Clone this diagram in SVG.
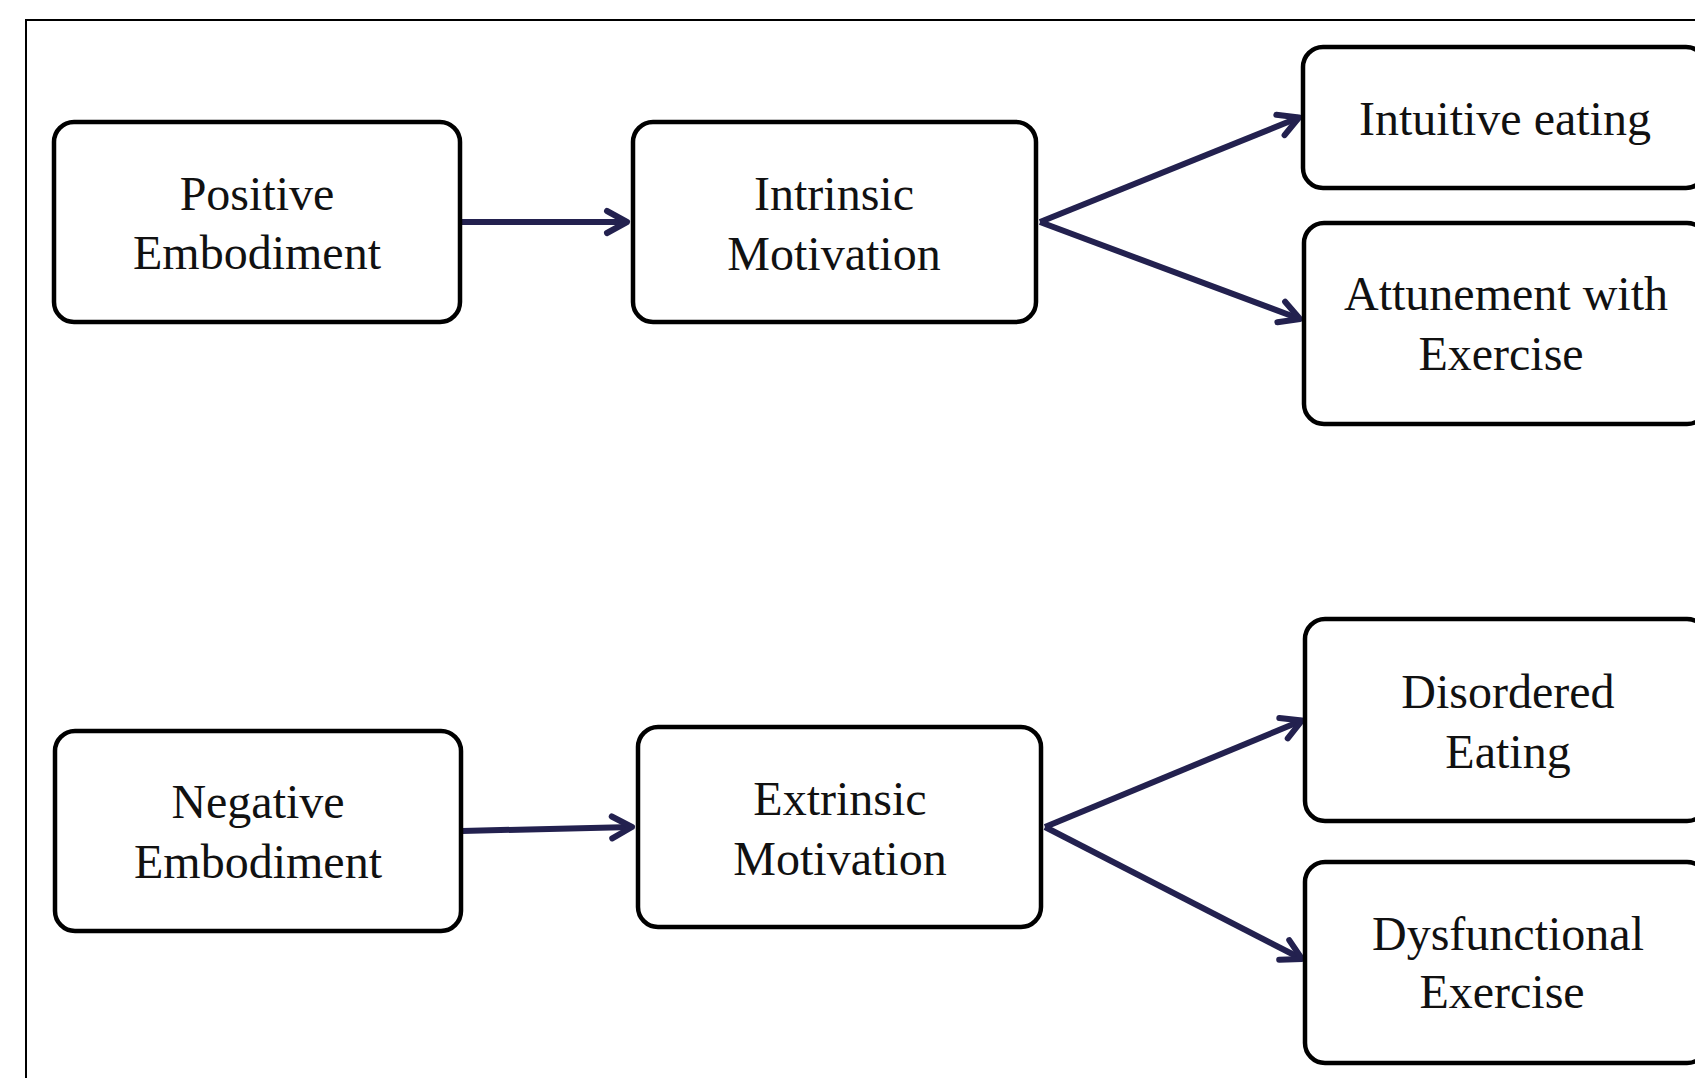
<svg xmlns="http://www.w3.org/2000/svg" width="1695" height="1078" viewBox="0 0 1695 1078">
<defs>
<style>
.box{fill:#fff;stroke:#000;stroke-width:4.5}
.lbl{font-family:"Liberation Serif","Times New Roman",serif;font-size:48px;fill:#111;text-anchor:middle}
.conn{fill:none;stroke:#23214f;stroke-width:6}
</style>
<marker id="arr" markerUnits="userSpaceOnUse" markerWidth="40" markerHeight="40" refX="0" refY="0" orient="auto" overflow="visible">
<path d="M-20,-11 L0,0 L-20,11" fill="none" stroke="#23214f" stroke-width="6" stroke-linecap="round" stroke-linejoin="round"/>
</marker>
</defs>
<rect width="1695" height="1078" fill="#fff"/>
<rect id="frame" x="26" y="20" width="1760" height="1160" fill="none" stroke="#000" stroke-width="2"/>
<g id="connectors">
<line class="conn" x1="462" y1="222" x2="627" y2="222" marker-end="url(#arr)"/>
<line class="conn" x1="1040" y1="222" x2="1299" y2="117.5" marker-end="url(#arr)"/>
<line class="conn" x1="1040" y1="222" x2="1300" y2="319" marker-end="url(#arr)"/>
<line class="conn" x1="462" y1="831" x2="632" y2="827" marker-end="url(#arr)"/>
<line class="conn" x1="1045" y1="827" x2="1302" y2="720.5" marker-end="url(#arr)"/>
<line class="conn" x1="1045" y1="827" x2="1302" y2="959" marker-end="url(#arr)"/>
</g>
<g id="positive-embodiment">
<rect class="box" x="54" y="122" width="406" height="200" rx="20"/>
<text class="lbl" x="257" y="210">Positive</text>
<text class="lbl" x="257" y="269">Embodiment</text>
</g>
<g id="intrinsic-motivation">
<rect class="box" x="633" y="122" width="403" height="200" rx="20"/>
<text class="lbl" x="834" y="210">Intrinsic</text>
<text class="lbl" x="834" y="270">Motivation</text>
</g>
<g id="intuitive-eating">
<rect class="box" x="1303" y="47" width="403" height="141" rx="20"/>
<text class="lbl" x="1505" y="135">Intuitive eating</text>
</g>
<g id="attunement-exercise">
<rect class="box" x="1304" y="223" width="403" height="201" rx="20"/>
<text class="lbl" x="1506" y="310">Attunement with</text>
<text class="lbl" x="1501" y="370">Exercise</text>
</g>
<g id="negative-embodiment">
<rect class="box" x="55" y="731" width="406" height="200" rx="20"/>
<text class="lbl" x="258" y="818">Negative</text>
<text class="lbl" x="258" y="878">Embodiment</text>
</g>
<g id="extrinsic-motivation">
<rect class="box" x="638" y="727" width="403" height="200" rx="20"/>
<text class="lbl" x="840" y="815">Extrinsic</text>
<text class="lbl" x="840" y="875">Motivation</text>
</g>
<g id="disordered-eating">
<rect class="box" x="1305" y="619" width="402" height="202" rx="20"/>
<text class="lbl" x="1508" y="708">Disordered</text>
<text class="lbl" x="1508" y="768">Eating</text>
</g>
<g id="dysfunctional-exercise">
<rect class="box" x="1305" y="862" width="402" height="201" rx="20"/>
<text class="lbl" x="1508" y="950">Dysfunctional</text>
<text class="lbl" x="1502" y="1008">Exercise</text>
</g>
</svg>
